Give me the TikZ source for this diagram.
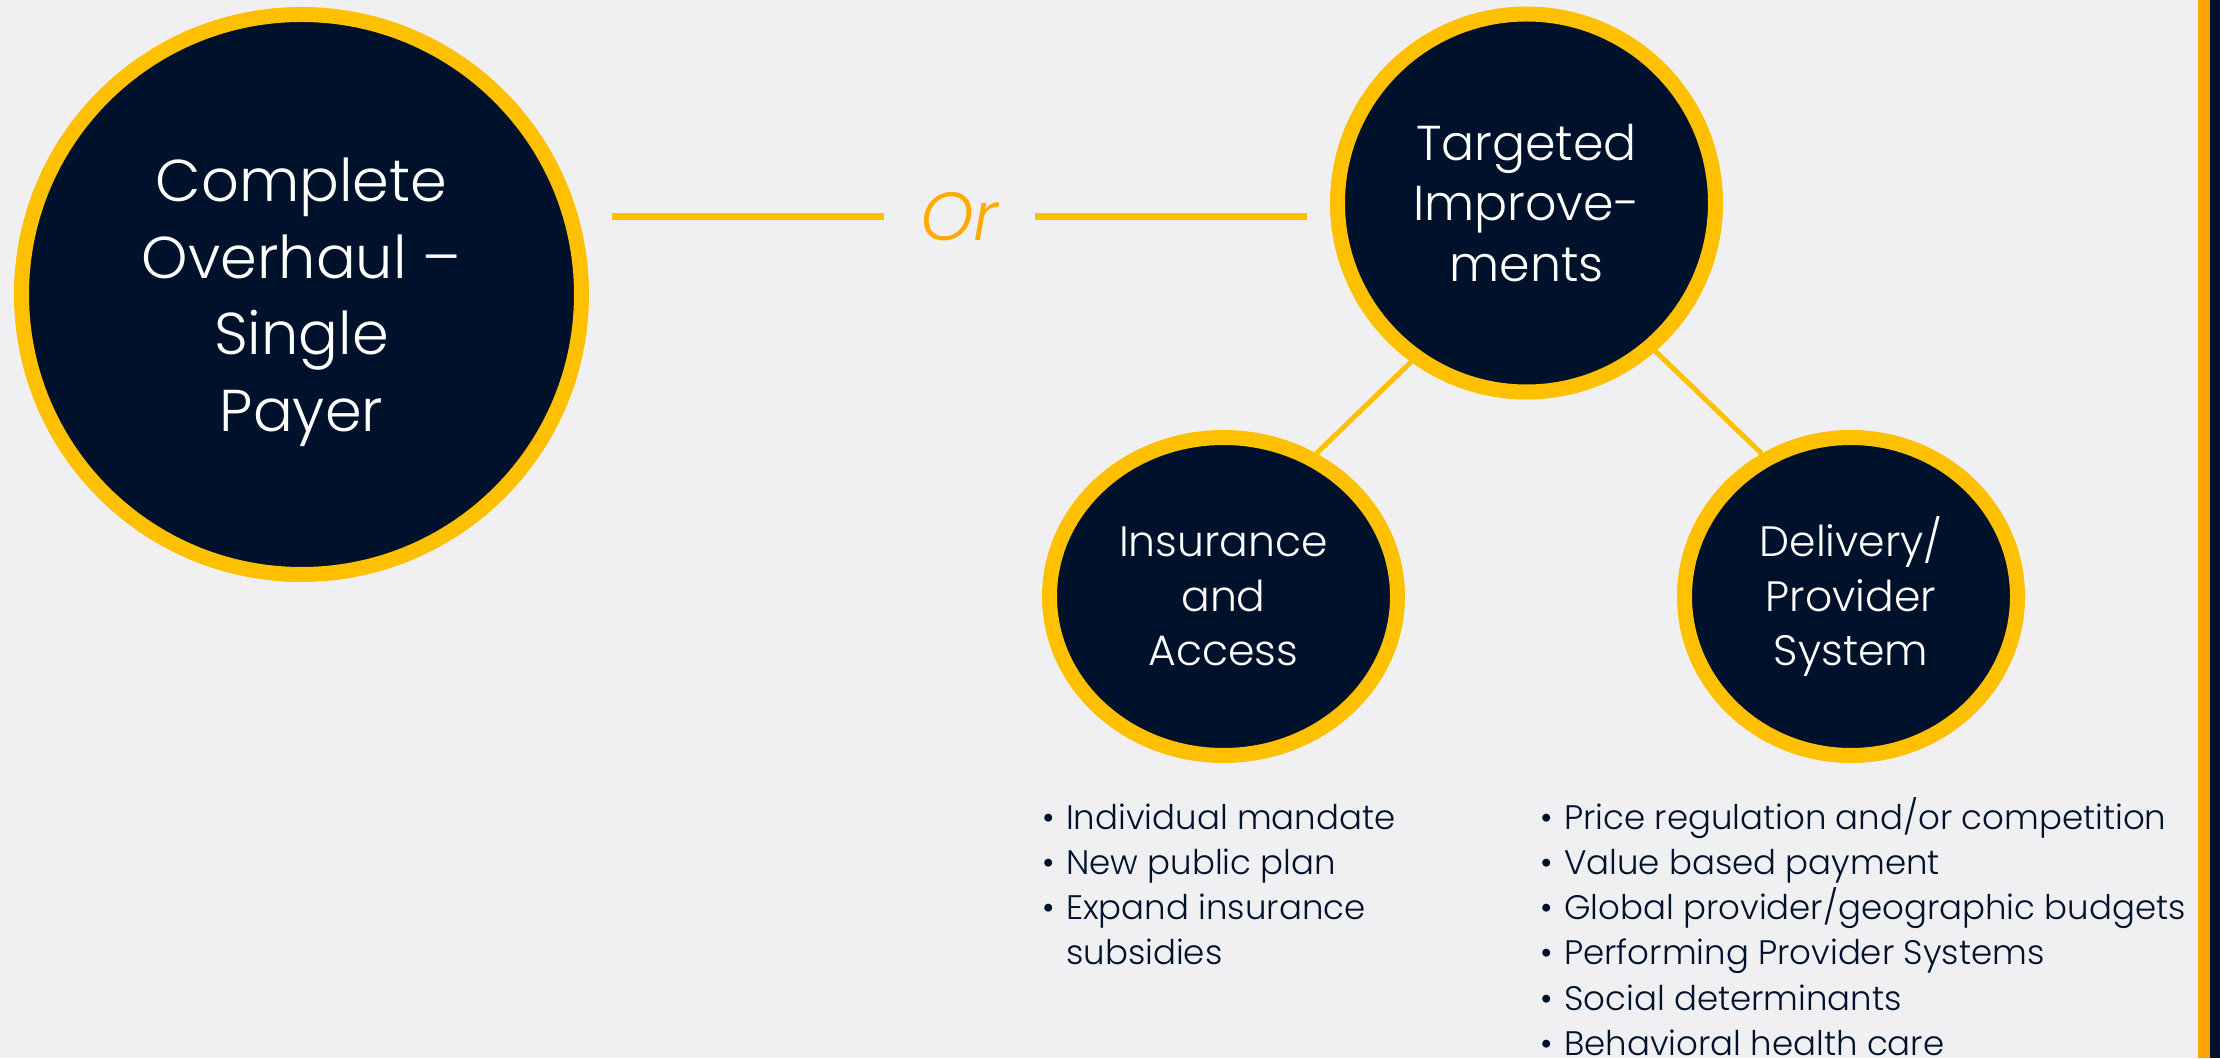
\documentclass[tikz,border=0pt]{standalone}
\usepackage{fontspec}
\setmainfont{Poppins}[UprightFont={* Light}, ItalicFont={* Light Italic}]
\usetikzlibrary{shapes.geometric}
\definecolor{bg}{HTML}{F0F0F2}
\definecolor{navy}{HTML}{00112C}
\definecolor{gold}{HTML}{FFC000}
\definecolor{amber}{HTML}{FFAA00}
\definecolor{barorange}{HTML}{FFA500}
\newcommand{\bul}{\makebox[24pt][l]{\textbullet}}
\begin{document}
\begin{tikzpicture}[x=1pt,y=1pt,
  bubble/.style={circle, fill=navy, draw=gold, line width=15pt, text=white, align=center, inner sep=0pt},
  oval/.style={ellipse, fill=navy, draw=gold, line width=15pt, text=white, align=center, inner sep=0pt,
    minimum height=318pt, font=\fontsize{42.5}{54.5}\selectfont},
  link/.style={draw=gold, line width=5pt},
  orline/.style={draw=gold, line width=7pt},
  item/.style={anchor=base west, inner sep=0pt, text=navy, font=\fontsize{34}{45}\selectfont},
]
% page and right-hand edge band
\fill[bg] (0,0) rectangle (2220,1058);
\useasboundingbox (0,0) rectangle (2220,1058);
\fill[barorange] (2198,0) rectangle (2210,1058);
\fill[navy] (2210,0) rectangle (2220,1058);

% the two alternatives
\node[bubble, minimum size=560pt, text depth=0pt, font=\fontsize{59}{76.5}\selectfont] (overhaul) at (301.5,763.5)
  {Complete\\Overhaul –\\Single\\Payer};
\node[bubble, minimum size=378pt, font=\fontsize{49}{60.5}\selectfont] (targeted) at (1526.5,855)
  {Targeted\\Improve-\\ments};
\node[text=amber, inner sep=0pt, minimum width=151pt, font=\fontsize{68}{80}\selectfont\itshape] (or) at (959.5,841.5) {Or};

\draw[orline, shorten <=23pt] (overhaul.east |- or.west) -- (or.west);
\draw[orline, shorten >=23pt] (or.east) -- (or.east -| targeted.west);

% the two branches of targeted improvements
\node[oval, minimum width=348pt] (insurance) at (1223.5,461.5) {Insurance\\and\\Access};
\node[oval, minimum width=333pt] (delivery) at (1851,461.5) {Delivery/\\Provider\\System};

\draw[link] (targeted.234) -- (insurance.57);
\draw[link] (targeted.311) -- (delivery.122);

% bullet lists
\foreach \t [count=\i] in {Individual mandate, New public plan, Expand insurance}
  \node[item] (ins\i) at (1042,{228-45*(\i-1)}) {\bul\t};
\node[item] (ins4) at (1066,93) {subsidies};

\foreach \t [count=\i] in {Price regulation and/or competition, Value based payment,
    Global provider/geographic budgets, Performing Provider Systems,
    Social determinants, Behavioral health care}
  \node[item] (del\i) at (1540,{228-45*(\i-1)}) {\bul\t};
\end{tikzpicture}
\end{document}
